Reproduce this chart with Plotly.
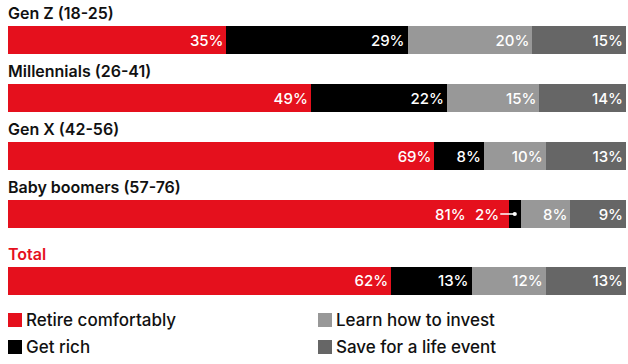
import plotly.graph_objects as go

categories = ["Gen Z (18-25)", "Millennials (26-41)", "Gen X (42-56)", "Baby boomers (57-76)", "Total"]
series_names = ["Retire comfortably", "Get rich", "Learn how to invest", "Save for a life event"]
retire = [35, 49, 69, 81, 62]
get_rich = [29, 22, 8, 2, 13]
learn = [20, 15, 10, 8, 12]
save = [15, 14, 13, 9, 13]
colors = ["#E5101D", "#000000", "#989898", "#666666"]

W, H = 628, 364
ML, MR, MT, MB = 8, 2, 0, 64
PW, PH = W - ML - MR, H - MT - MB
FONT = "Inter"

series = [retire, get_rich, learn, save]
row_sums = [sum(s[i] for s in series) for i in range(len(categories))]
ypos = [i + (0.155 if c == "Total" else 0) for i, c in enumerate(categories)]
small = [v < 5 for v in get_rich]

fig = go.Figure()
for k, (name, vals, col) in enumerate(zip(series_names, series, colors)):
    shares = [v / row_sums[i] * 100 for i, v in enumerate(vals)]
    texts = []
    for i, v in enumerate(vals):
        if v < 5 or (k == 0 and small[i]):
            texts.append("")
        else:
            texts.append(f"{v}%")
    fig.add_trace(go.Bar(
        name=name, y=ypos, x=shares, orientation="h",
        marker=dict(color=col, line=dict(width=0)),
        width=0.49, text=texts, textposition="inside", insidetextanchor="end",
        textfont=dict(color="white", size=15, family=FONT, weight=500),
        cliponaxis=False, showlegend=False, hoverinfo="skip",
    ))

# category labels
for c, y in zip(categories, ypos):
    fig.add_annotation(x=0, y=y, xref="x", yref="y", text=c, showarrow=False,
                       xanchor="left", yanchor="middle", yshift=27, xshift=-2,
                       font=dict(family=FONT, size=16, weight=600,
                                 color="#E5101D" if c == "Total" else "#111111"))

# small-value callouts (and shifted label of the preceding segment)
for i, v in enumerate(get_rich):
    if small[i]:
        red_end = retire[i] / row_sums[i] * 100
        xs = (retire[i] + v / 2) / row_sums[i] * 100
        fig.add_annotation(x=xs, y=ypos[i], xref="x", yref="y", text=f"{v}%",
                           showarrow=True, ax=-28, ay=0, arrowhead=6, arrowsize=0.7,
                           arrowwidth=1.5, arrowcolor="white", standoff=0,
                           font=dict(family=FONT, size=15, weight=500, color="white"))
        fig.add_annotation(x=red_end, y=ypos[i], xref="x", yref="y", text=f"{retire[i]}%",
                           showarrow=False, xanchor="right", yanchor="middle", xshift=-41,
                           font=dict(family=FONT, size=15, weight=500, color="white"))

# legend (manual)
def px2x(px):
    return (px - ML) / PW
def py2y(py):
    return (H - MB - py) / PH

legend_cols = [8, 318]
legend_rows = [320, 347]
for k, (name, col) in enumerate(zip(series_names, colors)):
    cx = legend_cols[k // 2]
    cy = legend_rows[k % 2]
    fig.add_shape(type="rect", xref="paper", yref="paper",
                  x0=px2x(cx), x1=px2x(cx + 14), y0=py2y(cy + 7), y1=py2y(cy - 7),
                  fillcolor=col, line=dict(width=0))
    fig.add_annotation(xref="paper", yref="paper", x=px2x(cx + 16), y=py2y(cy),
                       text=name, showarrow=False, xanchor="left", yanchor="middle",
                       font=dict(family=FONT, size=17, weight=500, color="#111111"))

top = -40 / 58
fig.update_layout(
    width=W, height=H, barmode="stack",
    margin=dict(l=ML, r=MR, t=MT, b=MB),
    plot_bgcolor="white", paper_bgcolor="white",
    xaxis=dict(range=[0, 100], visible=False, fixedrange=True),
    yaxis=dict(range=[top + PH / 58, top], visible=False, fixedrange=True),
)
fig.write_html("out.html")
